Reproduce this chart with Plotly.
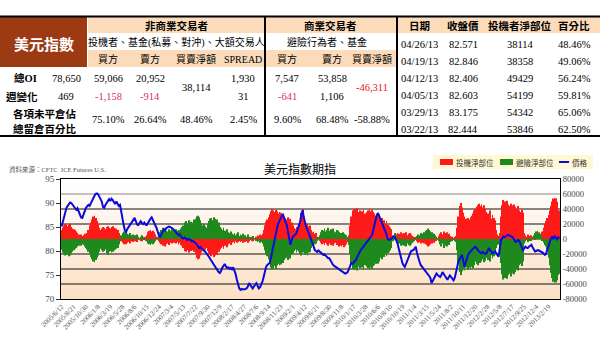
import plotly.graph_objects as go

# ---------------- data ----------------
x_labels = ["2005/6/12", "2005/8/21", "2005/10/30", "2006/1/8", "2006/3/19", "2006/5/28", "2006/8/6",
            "2006/10/15", "2006/12/24", "2007/3/4", "2007/5/13", "2007/7/22", "2007/9/30", "2007/12/9",
            "2008/2/17", "2008/4/27", "2008/7/6", "2008/9/14", "2008/11/23", "2009/2/1", "2009/4/12",
            "2009/6/21", "2009/8/30", "2009/11/8", "2010/1/17", "2010/3/28", "2010/6/6", "2010/8/10",
            "2010/10/19", "2011/1/4", "2011/3/15", "2011/5/24", "2011/8/2", "2011/10/11", "2011/12/20",
            "2012/2/28", "2012/5/8", "2012/7/17", "2012/9/25", "2012/12/4", "2013/2/19"]

price = [
    85.1, 86.2, 87.0, 88.2, 89.0, 89.4, 89.8, 90.1, 90.0, 89.6,
    89.4, 89.0, 88.6, 88.9, 88.2, 87.6, 87.0, 86.9, 87.6, 88.4,
    89.0, 89.3, 89.6, 89.4, 90.0, 90.6, 91.0, 91.5, 91.9, 92.0,
    91.8, 91.2, 90.8, 90.3, 89.2, 89.0, 89.6, 90.0, 90.5, 90.8,
    90.4, 90.9, 90.6, 90.2, 89.8, 90.3, 89.7, 89.4, 89.6, 88.0,
    86.5, 85.4, 84.3, 84.0, 84.6, 85.0, 85.4, 85.8, 86.2, 86.6,
    86.9, 86.2, 85.5, 85.4, 85.9, 86.2, 85.8, 85.6, 85.9, 85.5,
    85.4, 85.9, 86.4, 86.7, 87.0, 86.5, 85.9, 85.4, 84.8, 84.0,
    83.2, 83.0, 83.6, 84.1, 84.5, 84.3, 84.8, 84.9, 85.1, 85.0,
    84.9, 84.7, 84.5, 84.2, 83.9, 83.6, 83.3, 83.5, 83.0, 82.7,
    82.6, 82.8, 82.6, 82.3, 82.5, 82.4, 82.3, 82.0, 82.1, 81.8,
    81.7, 81.4, 81.0, 80.6, 80.8, 80.5, 80.3, 80.2, 79.9, 79.5,
    79.2, 78.8, 78.4, 78.0, 77.6, 77.1, 76.8, 76.3, 75.9, 75.6,
    75.4, 75.8, 76.5, 77.0, 77.3, 76.8, 76.5, 76.6, 76.3, 76.5,
    76.2, 76.6, 76.0, 75.2, 74.0, 72.9, 72.2, 71.9, 72.1, 72.0,
    72.0, 72.1, 72.2, 72.6, 73.3, 73.0, 72.5, 72.2, 72.6, 73.0,
    73.3, 72.8, 72.2, 72.4, 72.9, 73.6, 74.6, 75.8, 76.7, 77.1,
    77.3, 77.5, 78.6, 79.9, 81.2, 82.6, 83.7, 84.8, 85.7, 86.5,
    86.8, 87.3, 87.5, 86.7, 85.9, 85.4, 84.0, 82.6, 81.3, 82.2,
    83.0, 83.2, 83.5, 83.7, 84.6, 85.5, 86.1, 87.6, 88.5, 87.0,
    85.6, 85.0, 84.4, 83.8, 83.1, 82.6, 81.8, 81.0, 80.2, 80.0,
    79.8, 80.1, 79.9, 79.6, 79.4, 79.2, 79.3, 79.0, 78.7, 78.5,
    78.5, 78.0, 77.4, 77.1, 76.9, 76.7, 76.5, 76.4, 76.2, 76.0,
    75.8, 75.7, 75.5, 75.3, 75.4, 75.6, 76.2, 77.0, 77.5, 77.3,
    77.6, 77.8, 78.2, 78.8, 79.4, 79.9, 80.3, 80.6, 80.9, 81.2,
    81.5, 81.9, 82.2, 82.6, 83.0, 83.3, 84.2, 85.4, 86.6, 87.5,
    87.9, 87.3, 86.6, 86.2, 85.6, 85.0, 84.3, 83.4, 82.5, 82.3,
    82.4, 82.6, 82.8, 83.0, 82.8, 82.2, 81.6, 80.5, 79.3, 78.2,
    77.5, 77.0, 76.7, 77.3, 78.0, 78.8, 79.5, 79.9, 80.1, 80.2,
    80.5, 80.9, 79.6, 78.5, 77.8, 77.1, 76.8, 76.5, 76.1, 75.8,
    75.6, 75.3, 74.8, 74.4, 73.3, 73.8, 74.4, 74.9, 75.3, 75.0,
    74.8, 74.6, 75.0, 75.6, 75.2, 74.8, 74.2, 74.0, 74.5, 74.9,
    74.6, 74.2, 73.9, 74.4, 75.3, 76.6, 77.8, 78.4, 79.0, 79.2,
    78.0, 76.7, 77.6, 78.6, 79.2, 79.6, 80.0, 80.2, 80.5, 80.7,
    80.9, 80.6, 80.1, 79.9, 79.7, 79.5, 79.8, 79.6, 79.4, 79.5,
    80.0, 80.6, 80.2, 79.8, 79.5, 79.7, 79.9, 79.6, 79.2, 78.8,
    80.4, 82.3, 82.6, 83.0, 82.9, 83.1, 83.3, 83.4, 83.2, 83.1,
    83.0, 82.7, 82.3, 81.9, 82.0, 82.3, 82.1, 81.3, 80.6, 80.2,
    80.5, 80.9, 80.7, 80.6, 80.9, 81.1, 81.3, 80.8, 80.3, 79.9,
    80.0, 80.2, 80.1, 80.0, 79.9, 79.7, 79.5, 79.2, 79.4, 80.2,
    81.5, 82.1, 82.6, 83.0, 82.444, 83.175, 82.603, 82.406, 82.846, 82.571,
]

spec_net_k = [
    12, 15, 18, 20, 19, 17, 19, 20, 16, 14,
    13, 12, 10, 8, 6, 5, 6, 4, 5, 7,
    6, 8, 12, 18, 22, 26, 30, 31, 28, 24,
    20, 15, 12, 14, 16, 15, 13, 16, 17, 15,
    14, 16, 17, 15, 13, 14, 12, 8, 2, -3,
    -5, -7, -6, -7, -5, -4, -6, -3, -2, -4,
    -3, -2, -4, -1, 1, -2, -3, -1, 2, 3,
    5, 9, 11, 12, 10, 11, 9, 6, 3, 1,
    -2, -5, -7, -9, -8, -10, -7, -6, -8, -5,
    -4, -6, -5, -3, -6, -4, -7, -5, -8, -9,
    -12, -16, -17, -15, -14, -18, -16, -13, -15, -17,
    -20, -25, -27, -26, -22, -18, -15, -17, -14, -12,
    -16, -19, -21, -23, -20, -24, -22, -19, -21, -17,
    -14, -12, -10, -13, -9, -8, -11, -7, -6, -8,
    -5, -4, -6, -3, -5, -4, -2, -4, -3, -5,
    -3, -4, -2, -5, -3, -1, -2, -3, 0, 1,
    3, 5, 4, 6, 5, 7, 12, 18, 23, 26,
    29, 33, 37, 40, 38, 36, 39, 37, 34, 36,
    35, 33, 34, 30, 28, 26, 29, 25, 27, 22,
    18, 15, 13, 16, 14, 17, 24, 35, 40, 30,
    22, 19, 20, 17, 18, 12, 9, 10, 7, 8,
    3, 1, -2, -5, -7, -6, -8, -5, -7, -9,
    -6, -8, -7, -9, -6, -5, -8, -7, -10, -9,
    -10, -8, -11, -9, -7, -4, 5, 18, 30, 38,
    40, 37, 39, 41, 36, 38, 35, 37, 39, 34,
    33, 36, 38, 40, 37, 39, 36, 34, 31, 29,
    32, 30, 26, 28, 22, 25, 20, 24, 19, 17,
    15, 13, 5, 2, 3, 6, 8, 7, 5, 9,
    7, 8, 6, 9, 5, 7, 8, 6, 4, 3,
    2, -1, -3, -5, -4, -6, -5, -3, -6, -7,
    -8, -10, -9, -7, -6, -4, -5, -3, -2, 1,
    4, 7, 9, 6, 10, 8, 5, 9, 7, 4,
    2, 3, 1, 2, 4, 15, 30, 44, 48, 42,
    35, 30, 27, 25, 28, 26, 29, 31, 34, 38,
    40, 43, 45, 47, 44, 46, 42, 45, 40, 36,
    34, 30, 38, 27, 32, 28, 25, 12, 6, 4,
    8, 30, 45, 52, 50, 48, 51, 46, 44, 47,
    45, 42, 46, 43, 40, 44, 38, 36, 39, 35,
    8, 5, 3, 6, 4, 2, 5, 3, 1, -1,
    2, 4, 3, 5, 6, 10, 15, 20, 24, 28,
    32, 38, 44, 50, 53.846, 54.342, 54.199, 49.429, 38.358, 38.114,
]

hedge_net_k = [
    -14, -18, -20, -22, -21, -20, -23, -22, -19, -17,
    -15, -13, -12, -10, -9, -8, -9, -7, -8, -10,
    -12, -14, -17, -20, -24, -27, -30, -31, -28, -25,
    -22, -17, -13, -15, -17, -16, -14, -19, -21, -17,
    -16, -18, -17, -15, -14, -13, -12, -7, 0, 5,
    8, 10, 9, 9, 7, 6, 8, 5, 4, 6,
    5, 4, 6, 3, 1, 3, 5, 2, -1, -2,
    -3, -6, -7, -8, -6, -7, -5, -3, 0, 2,
    5, 9, 12, 15, 13, 14, 11, 10, 13, 9,
    11, 13, 12, 10, 13, 11, 12, 12, 14, 16,
    18, 22, 24, 21, 20, 25, 23, 20, 22, 26,
    27, 30, 31, 29, 25, 21, 18, 20, 17, 15,
    20, 24, 27, 28, 25, 29, 27, 24, 26, 22,
    16, 14, 12, 15, 11, 10, 13, 9, 8, 10,
    7, 6, 8, 5, 7, 9, 4, 6, 5, 7,
    4, 5, 3, 6, 3, 2, 3, 4, 1, 0,
    -2, -4, -3, -5, -4, -6, -10, -15, -20, -23,
    -27, -32, -38, -41, -39, -36, -40, -35, -33, -35,
    -34, -30, -32, -28, -26, -25, -28, -24, -26, -21,
    -19, -16, -14, -18, -15, -17, -20, -22, -18, -17,
    -21, -19, -22, -18, -17, -12, -9, -8, -7, -6,
    -2, 2, 5, 9, 12, 11, 14, 10, 12, 15,
    11, 13, 12, 14, 10, 9, 12, 11, 9, 8,
    8, 9, 7, 6, 5, 2, -8, -20, -32, -40,
    -41, -38, -40, -42, -37, -39, -36, -38, -41, -35,
    -34, -37, -39, -41, -38, -40, -36, -35, -33, -30,
    -33, -30, -25, -27, -22, -24, -20, -23, -19, -17,
    -15, -12, -3, 4, 8, 6, -3, -6, -5, -9,
    -8, -9, -7, -10, -6, -8, -9, -7, -5, -4,
    -2, 2, 4, 6, 5, 8, 7, 5, 9, 11,
    12, 14, 12, 10, 9, 7, 7, 5, 3, 1,
    -3, -7, -10, -6, -12, -9, -5, -10, -8, -4,
    -2, -3, -1, -2, -4, -15, -32, -44, -48, -43,
    -40, -42, -38, -36, -41, -38, -40, -37, -39, -35,
    -30, -33, -35, -28, -32, -30, -27, -31, -29, -25,
    -28, -24, -30, -22, -26, -23, -20, -12, -8, -7,
    -10, -32, -47, -54, -52, -49, -53, -48, -46, -50,
    -46, -43, -47, -44, -40, -42, -35, -33, -36, -30,
    -6, -3, -1, -4, -2, 1, -2, 2, 5, 8,
    10, 11, 9, 7, 4, -2, -5, -8, -10, -14,
    -25, -35, -45, -52, -57, -58, -58, -55, -48, -46.311,
]

# table data
tbl_dates = ["04/26/13", "04/19/13", "04/12/13", "04/05/13", "03/29/13", "03/22/13"]
tbl_close = ["82.571", "82.846", "82.406", "82.603", "83.175", "82.444"]
tbl_spec_net = ["38114", "38358", "49429", "54199", "54342", "53846"]
tbl_pct = ["48.46%", "49.06%", "56.24%", "59.81%", "65.06%", "62.50%"]

total_oi = "78,650"
weekly_change = "469"
noncomm_oi = ["59,066", "20,952", "38,114", "1,930"]
noncomm_chg = ["-1,158", "-914", "31"]
noncomm_pct = ["75.10%", "26.64%", "48.46%", "2.45%"]
comm_oi = ["7,547", "53,858", "-46,311"]
comm_chg = ["-641", "1,106"]
comm_pct = ["9.60%", "68.48%", "-58.88%"]

# ---------------- layout helpers ----------------
W, H = 600, 364
L, R, T, B = 61, 560, 179, 299


def px(X):
    return (X - L) / (R - L)


def py(Y):
    return (B - Y) / (B - T)


SERIF = "Liberation Serif, Noto Sans CJK TC, serif"
CJK = "Noto Sans CJK TC, sans-serif"

RED = "#FF1A1A"
GREEN = "#1E8A1E"
BLUE = "#0A0ADC"
PEACH = "#FBDBBA"
BROWN = "#9C3A14"

n = len(price)
xs = list(range(n))
spec_net = [v * 1000 for v in spec_net_k]
hedge_net = [v * 1000 for v in hedge_net_k]

fig = go.Figure()
fig.add_trace(go.Bar(x=xs, y=spec_net, marker=dict(color=RED, line=dict(width=0)),
                     name="投機淨部位", yaxis="y", hoverinfo="skip"))
fig.add_trace(go.Bar(x=xs, y=hedge_net, marker=dict(color=GREEN, line=dict(width=0)),
                     name="避險淨部位", yaxis="y", hoverinfo="skip"))
fig.add_trace(go.Scatter(x=xs, y=price, mode="lines", line=dict(color=BLUE, width=2),
                         name="價格", yaxis="y2", hoverinfo="skip"))

shapes = []
ann = []

# plot background gradient (white -> peach)
nb = 30
c0 = (255, 255, 255)
c1 = (252, 224, 196)
for k in range(nb):
    t = k / (nb - 1)
    col = tuple(round(c0[j] + (c1[j] - c0[j]) * t) for j in range(3))
    shapes.append(dict(type="rect", xref="x domain", yref="y domain", x0=0, x1=1,
                       y0=1 - (k + 1) / nb, y1=1 - k / nb, fillcolor="rgb(%d,%d,%d)" % col,
                       line=dict(width=0), layer="below"))

# horizontal grid lines
for v in [60000, 40000, 20000, 0, -20000, -40000, -60000]:
    shapes.append(dict(type="line", xref="x domain", yref="y", x0=0, x1=1, y0=v, y1=v,
                       line=dict(color="#888888" if v == 60000 else "#111111", width=1), layer="below"))


def rect(x0, y0, x1, y1, color):
    shapes.append(dict(type="rect", xref="paper", yref="paper", x0=px(x0), x1=px(x1),
                       y0=py(y1), y1=py(y0), fillcolor=color, line=dict(width=0), layer="above"))


def hline(x0, x1, y, w=2, color="black"):
    shapes.append(dict(type="line", xref="paper", yref="paper", x0=px(x0), x1=px(x1),
                       y0=py(y), y1=py(y), line=dict(color=color, width=w)))


def vline(x, y0, y1, w=2, color="black"):
    shapes.append(dict(type="line", xref="paper", yref="paper", x0=px(x), x1=px(x),
                       y0=py(y0), y1=py(y1), line=dict(color=color, width=w)))


def txt(X, Y, s, size=11, color="black", family=SERIF, xanchor="center", bold=False):
    ann.append(dict(x=px(X), y=py(Y), xref="paper", yref="paper", text=s, showarrow=False,
                    xanchor=xanchor, yanchor="middle",
                    font=dict(size=size, color=color, family=family, weight="bold" if bold else "normal")))


# ---------------- table ----------------
rect(0, 17, 87, 67, BROWN)
rect(88, 17, 396, 33, PEACH)
rect(88, 50, 396, 67, PEACH)
rect(398, 17, 600, 33, PEACH)
hline(0, 600, 16.5, 2)
hline(0, 600, 136, 2)
vline(265, 16, 136, 2)
vline(397, 16, 136, 2)

txt(44, 43, "美元指數", size=15, color="white", family=CJK, bold=True)
txt(176, 25, "非商業交易者", size=10.5, family=CJK, bold=True)
txt(176, 42, "投機者、基金(私募、對沖)、大額交易人", size=10, family=SERIF)
txt(330, 25, "商業交易者", size=10.5, family=CJK, bold=True)
txt(327, 42, "避險行為者、基金", size=10, family=SERIF)
col_nc = [108, 150, 196, 243]
col_c = [287, 332, 372]
for X, s in zip(col_nc, ["買方", "賣方", "買賣淨額", "SPREAD"]):
    txt(X, 59, s, size=10)
for X, s in zip(col_c, ["買方", "賣方", "買賣淨額"]):
    txt(X, 59, s, size=10)

txt(25, 78, "總OI", size=10.5, bold=True)
txt(66, 78, total_oi, size=10.5)
txt(22, 96, "週變化", size=10.5, family=CJK, bold=True)
txt(66, 96, weekly_change, size=10.5)
txt(45, 113, "各項未平倉佔", size=10.5, family=CJK, bold=True)
txt(45, 128, "總留倉百分比", size=10.5, family=CJK, bold=True)

NEG = "#D8305A"
txt(col_nc[0], 78, noncomm_oi[0], size=10.5)
txt(col_nc[1], 78, noncomm_oi[1], size=10.5)
txt(col_nc[2], 87, noncomm_oi[2], size=10.5)
txt(col_nc[3], 78, noncomm_oi[3], size=10.5)
txt(col_nc[0], 96, noncomm_chg[0], size=10.5, color=NEG)
txt(col_nc[1], 96, noncomm_chg[1], size=10.5, color=NEG)
txt(col_nc[3], 96, noncomm_chg[2], size=10.5)
for X, s in zip(col_nc, noncomm_pct):
    txt(X, 119, s, size=10.5)

txt(col_c[0], 78, comm_oi[0], size=10.5)
txt(col_c[1], 78, comm_oi[1], size=10.5)
txt(col_c[2], 87, comm_oi[2], size=10.5, color="#E8141E")
txt(col_c[0], 96, comm_chg[0], size=10.5, color=NEG)
txt(col_c[1], 96, comm_chg[1], size=10.5)
for X, s in zip(col_c, comm_pct):
    txt(X, 119, s, size=10.5)

col_r = [419, 463, 520, 574]
for X, s in zip(col_r, ["日期", "收盤價", "投機者淨部位", "百分比"]):
    txt(X, 25, s, size=10.5, family=CJK, bold=True)
row_y = [44, 61, 78, 95, 112, 129]
for i, Y in enumerate(row_y):
    txt(col_r[0], Y, tbl_dates[i], size=10.5)
    txt(col_r[1], Y, tbl_close[i], size=10.5)
    txt(col_r[2], Y, tbl_spec_net[i], size=10.5)
    txt(col_r[3], Y, tbl_pct[i], size=10.5)

# ---------------- chart titles & legend ----------------
txt(300, 168, "美元指數期指", size=12, family=CJK)
txt(7, 169, "資料來源：CFTC  ICE Futures U.S.", size=6.5, color="#555555", family=SERIF, xanchor="left")

rect(433, 155, 593, 169, "#FFF8D2")
rect(440, 159, 453, 165, RED)
txt(454, 162, "投機淨部位", size=7.5, color="#333333", family=CJK, xanchor="left")
rect(500, 159, 513, 165, GREEN)
txt(514, 162, "避險淨部位", size=7.5, color="#333333", family=CJK, xanchor="left")
shapes.append(dict(type="line", xref="paper", yref="paper", x0=px(559), x1=px(569), y0=py(162), y1=py(162),
                   line=dict(color=BLUE, width=2)))
txt(570, 162, "價格", size=7.5, color="#333333", family=CJK, xanchor="left")

right_vals = [80000, 60000, 40000, 20000, 0, -20000, -40000, -60000, -80000]

fig.update_layout(
    width=W, height=H,
    margin=dict(l=L, r=W - R, t=T, b=H - B, pad=0),
    paper_bgcolor="white", plot_bgcolor="white",
    showlegend=False, barmode="overlay", bargap=0.3,
    shapes=shapes, annotations=ann,
    xaxis=dict(range=[-0.5, n - 0.5], tickvals=list(range(0, len(x_labels) * 10, 10)), ticktext=x_labels,
               tickangle=-45, tickfont=dict(size=7, color="#555555", family=SERIF),
               showgrid=False, zeroline=False, showline=True, linecolor="black", linewidth=1, mirror=True,
               ticks=""),
    yaxis=dict(range=[-80000, 80000], side="right", tickvals=right_vals, ticktext=[str(v) for v in right_vals],
               tickfont=dict(size=8.5, color="#444444", family=SERIF), showgrid=False, zeroline=False,
               showline=True, linecolor="black", linewidth=1, mirror=True, ticks=""),
    yaxis2=dict(range=[70, 95], overlaying="y", side="left", tickvals=[70, 75, 80, 85, 90, 95],
                tickfont=dict(size=9, color="#444444", family=SERIF), showgrid=False, zeroline=False,
                ticks="outside", ticklen=4, tickcolor="#333333", showline=False),
)

fig.write_html("out.html", config={"displayModeBar": False},
               post_script="document.body.style.margin='0';document.body.style.overflow='hidden';")
